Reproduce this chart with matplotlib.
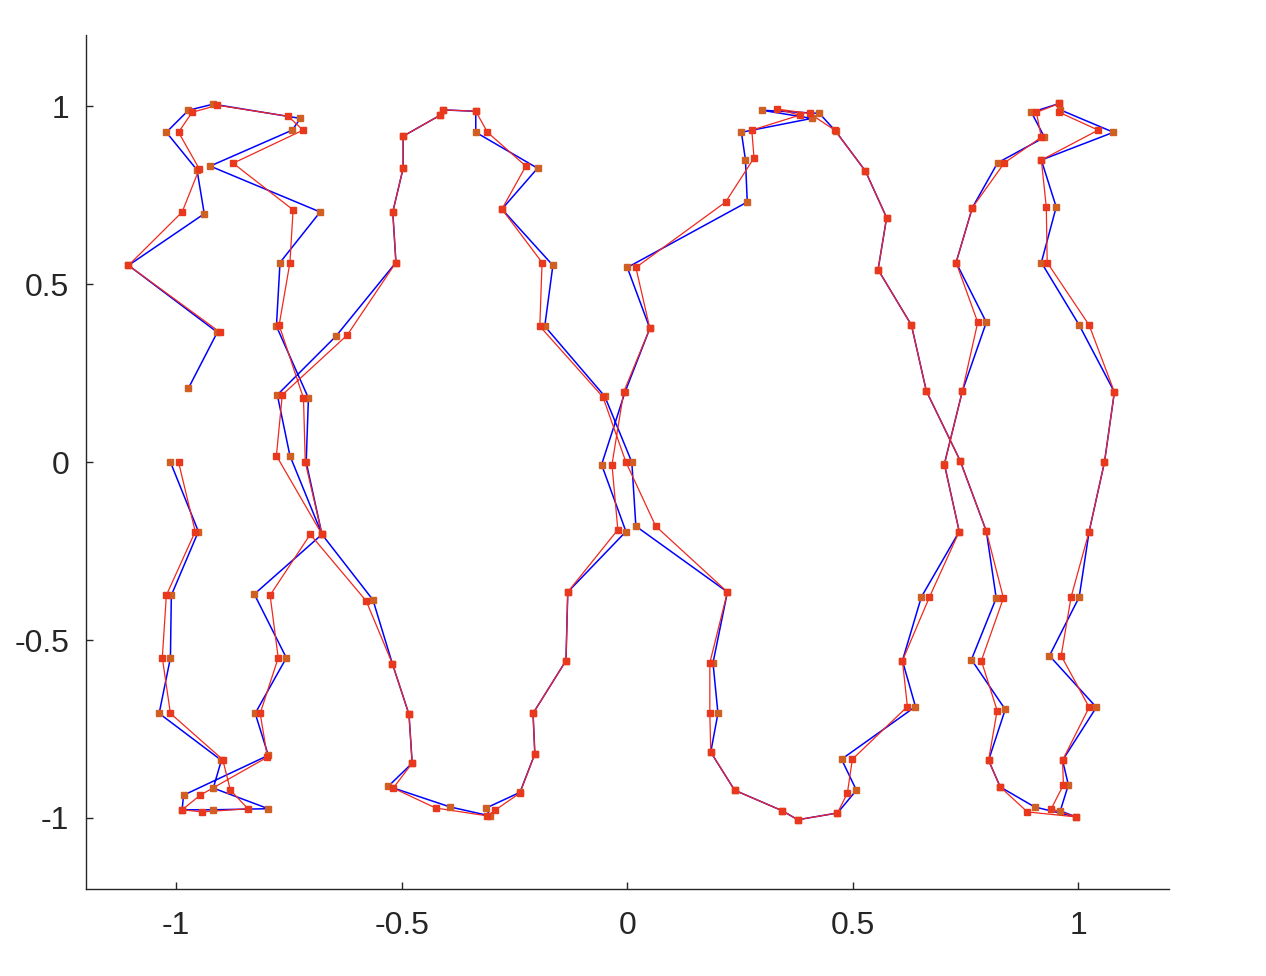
import matplotlib
matplotlib.use("Agg")
import matplotlib.pyplot as plt

# blue trace (vertices)
bx = [-1.013, -0.951, -1.011, -1.013, -1.038, -0.900, -0.918, -0.796, -0.918, -0.987,
      -0.984, -0.796, -0.825, -0.756, -0.827, -0.677, -0.564, -0.521, -0.484, -0.477,
      -0.530, -0.393, -0.305, -0.313, -0.238, -0.205, -0.209, -0.136, -0.132, -0.003,
      -0.057, -0.005, 0.050, 0.000, 0.266, 0.262, 0.253, 0.409, 0.298, 0.426,
      0.462, 0.528, 0.575, 0.556, 0.630, 0.663, 0.738, 0.796, 0.818, 0.763,
      0.838, 0.801, 0.827, 0.903, 0.995, 0.960, 0.978, 0.965, 1.040, 0.936,
      1.002, 1.024, 1.058, 1.080, 1.002, 0.918, 0.951, 0.918, 1.078, 0.960,
      0.958, 0.896, 0.925, 0.821, 0.765, 0.729, 0.796, 0.743, 0.703, 0.736,
      0.652, 0.610, 0.639, 0.475, 0.508, 0.466, 0.378, 0.344, 0.238, 0.185,
      0.201, 0.190, 0.222, 0.019, 0.010, -0.050, -0.183, -0.165, -0.278, -0.199,
      -0.336, -0.336, -0.409, -0.415, -0.497, -0.497, -0.520, -0.513, -0.646, -0.776,
      -0.748, -0.677, -0.712, -0.707, -0.778, -0.770, -0.681, -0.925, -0.743, -0.725,
      -0.918, -0.973, -1.022, -0.954, -0.938, -1.106, -0.909, -0.973]
by = [0.000, -0.195, -0.374, -0.550, -0.706, -0.838, -0.916, -0.974, -0.977, -0.977,
      -0.936, -0.824, -0.706, -0.550, -0.371, -0.203, -0.387, -0.566, -0.709, -0.846,
      -0.911, -0.969, -0.994, -0.972, -0.928, -0.820, -0.706, -0.558, -0.365, -0.195,
      -0.007, 0.197, 0.376, 0.547, 0.731, 0.849, 0.927, 0.966, 0.989, 0.980,
      0.930, 0.818, 0.687, 0.541, 0.385, 0.200, 0.004, -0.194, -0.382, -0.555,
      -0.695, -0.838, -0.913, -0.969, -0.997, -0.980, -0.907, -0.838, -0.689, -0.544,
      -0.379, -0.195, 0.000, 0.197, 0.385, 0.561, 0.717, 0.849, 0.927, 0.990,
      1.008, 0.983, 0.913, 0.841, 0.715, 0.561, 0.393, 0.200, -0.005, -0.195,
      -0.379, -0.558, -0.687, -0.835, -0.922, -0.986, -1.005, -0.980, -0.922, -0.815,
      -0.706, -0.564, -0.365, -0.180, 0.000, 0.185, 0.382, 0.553, 0.711, 0.826,
      0.927, 0.986, 0.990, 0.975, 0.916, 0.826, 0.703, 0.561, 0.354, 0.189,
      0.018, -0.203, 0.000, 0.180, 0.382, 0.561, 0.703, 0.832, 0.933, 0.966,
      1.006, 0.989, 0.927, 0.821, 0.698, 0.553, 0.365, 0.208]

# red trace
rx = [-0.995, -0.958, -1.022, -1.031, -1.013, -0.897, -0.880, -0.841, -0.943, -0.987,
      -0.947, -0.798, -0.814, -0.774, -0.792, -0.703, -0.579, -0.521, -0.484, -0.477,
      -0.519, -0.425, -0.311, -0.293, -0.238, -0.205, -0.209, -0.136, -0.132, -0.021,
      -0.034, -0.008, 0.050, 0.019, 0.218, 0.281, 0.276, 0.382, 0.333, 0.404,
      0.460, 0.528, 0.575, 0.556, 0.630, 0.663, 0.738, 0.796, 0.834, 0.785,
      0.820, 0.801, 0.827, 0.887, 0.995, 0.940, 0.967, 0.965, 1.024, 0.962,
      0.984, 1.024, 1.058, 1.080, 1.024, 0.931, 0.929, 0.918, 1.044, 0.958,
      0.958, 0.907, 0.918, 0.836, 0.765, 0.729, 0.777, 0.743, 0.703, 0.736,
      0.670, 0.610, 0.621, 0.499, 0.488, 0.466, 0.378, 0.344, 0.238, 0.185,
      0.183, 0.183, 0.222, 0.063, -0.003, -0.054, -0.194, -0.189, -0.278, -0.225,
      -0.310, -0.336, -0.409, -0.415, -0.497, -0.497, -0.520, -0.513, -0.621, -0.765,
      -0.778, -0.677, -0.714, -0.718, -0.772, -0.748, -0.741, -0.874, -0.719, -0.752,
      -0.909, -0.965, -0.995, -0.949, -0.987, -1.106, -0.903]
ry = [0.000, -0.195, -0.374, -0.550, -0.706, -0.836, -0.922, -0.974, -0.983, -0.977,
      -0.936, -0.829, -0.706, -0.550, -0.374, -0.203, -0.390, -0.566, -0.709, -0.846,
      -0.916, -0.972, -0.994, -0.978, -0.930, -0.820, -0.706, -0.558, -0.365, -0.190,
      -0.007, 0.197, 0.376, 0.547, 0.731, 0.855, 0.933, 0.975, 0.992, 0.980,
      0.933, 0.818, 0.687, 0.541, 0.385, 0.200, 0.004, -0.194, -0.382, -0.558,
      -0.698, -0.838, -0.913, -0.983, -0.997, -0.974, -0.907, -0.838, -0.689, -0.544,
      -0.379, -0.195, 0.000, 0.197, 0.385, 0.561, 0.717, 0.849, 0.933, 0.983,
      1.008, 0.983, 0.913, 0.841, 0.715, 0.561, 0.393, 0.200, -0.007, -0.195,
      -0.379, -0.558, -0.687, -0.835, -0.930, -0.986, -1.005, -0.980, -0.922, -0.815,
      -0.706, -0.564, -0.365, -0.180, 0.000, 0.183, 0.382, 0.561, 0.711, 0.832,
      0.927, 0.986, 0.990, 0.975, 0.916, 0.826, 0.703, 0.561, 0.357, 0.189,
      0.018, -0.203, 0.000, 0.180, 0.385, 0.561, 0.709, 0.840, 0.933, 0.972,
      1.003, 0.983, 0.927, 0.824, 0.703, 0.553, 0.365]

ticks = [-1, -0.5, 0, 0.5, 1]
tick_labels = ["-1", "-0.5", "0", "0.5", "1"]

fig = plt.figure(figsize=(12.66, 9.76), dpi=100)
ax = fig.add_axes([0.068, 0.089, 0.855, 0.875])

ax.plot(bx, by, color="#0000ff", linewidth=1.1, zorder=2)
ax.plot(bx, by, linestyle="none", marker="s", markersize=3.8,
        markerfacecolor="#cf5f22", markeredgecolor="#cf5f22", zorder=4)
ax.plot(rx, ry, color="#f0281e", linewidth=0.9, zorder=3)
ax.plot(rx, ry, linestyle="none", marker="s", markersize=3.8,
        markerfacecolor="#e8381e", markeredgecolor="#e8381e", zorder=5)

ax.set_xlim(-1.2, 1.2)
ax.set_ylim(-1.2, 1.2)
ax.set_xticks(ticks)
ax.set_xticklabels(tick_labels)
ax.set_yticks(ticks)
ax.set_yticklabels(tick_labels)
for side in ["top", "right"]:
    ax.spines[side].set_visible(False)
for side in ["left", "bottom"]:
    ax.spines[side].set_linewidth(1.0)
    ax.spines[side].set_color("#262626")
ax.tick_params(direction="in", length=5, width=1.0, color="#262626",
               labelsize=23, labelcolor="#262626")
ax.tick_params(axis="x", pad=16)
ax.tick_params(axis="y", pad=12)
for lab in ax.get_xticklabels() + ax.get_yticklabels():
    lab.set_family("Liberation Sans")

fig.savefig("out.png", dpi=100)
